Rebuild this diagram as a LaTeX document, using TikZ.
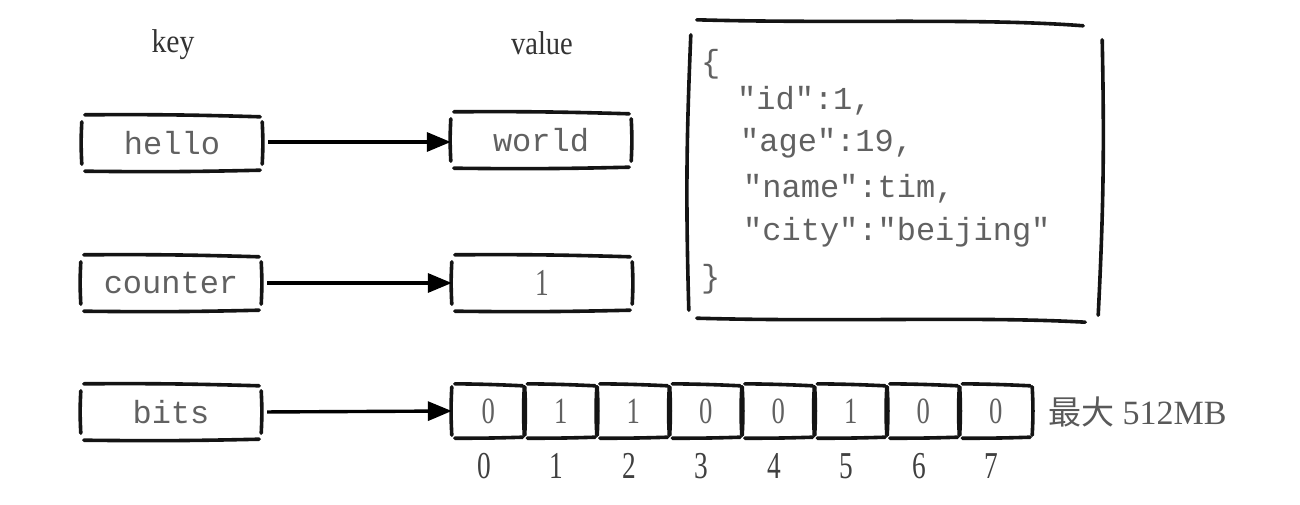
\documentclass[tikz,border=0pt]{standalone}
\usepackage{fontspec}
\setmainfont{Liberation Serif}
\setmonofont{Liberation Mono}
\newfontfamily\cjk{Noto Sans CJK SC}
\usetikzlibrary{arrows.meta,calc}
\newcommand\skbox[2][6pt]{%
  \draw[skline] ([xshift=3pt,yshift=1pt]#2.north west) to[bend left=1] ([xshift=-2pt,yshift=-1pt]#2.north east);
  \draw[skline] ([xshift=3pt,yshift=-1pt]#2.south west) to[bend right=1] ([xshift=-2pt]#2.south east);
  \draw[skline] ([yshift=-#1]#2.north west) to[bend right=3] ([yshift=#1]#2.south west);
  \draw[skline] ([yshift=-#1]#2.north east) to[bend left=3] ([yshift=#1]#2.south east);
}
\newcommand\nar[1]{\scalebox{0.72}[1]{#1}}
\begin{document}
\begin{tikzpicture}[x=1pt,y=-1pt,
  skline/.style={line width=3.6pt,line cap=round,draw=black!92},
  kbox/.style={minimum width=180pt,minimum height=54pt,inner sep=0pt,font=\fontsize{32}{32}\ttfamily,text=black!62},
  cell/.style={minimum width=72.5pt,minimum height=52pt,inner sep=0pt,font=\fontsize{37}{37}\selectfont,text=black!62},
  lab/.style={font=\fontsize{33}{34}\selectfont,text=black!80},
  idx/.style={anchor=base,inner sep=0pt,font=\fontsize{38}{38}\selectfont,text=black!75},
  arr/.style={line width=3.4pt,-{Triangle[length=24pt,width=19pt]},shorten <=6pt},
  jl/.style={anchor=base west,inner sep=0pt,font=\fontsize{32}{32}\ttfamily,text=black!62}]
\useasboundingbox (0,0) rectangle (1300,505);
\fill[white] (0,0) rectangle (1300,505);

\node[lab] (key) at (173,45) {\nar{\scalebox{1.25}[1]{key}}};
\node[lab] (val) at (542,43) {\nar{\scalebox{1.2}[1]{value}}};

\node[kbox] (hello) at (172,143) {hello};
\node[kbox] (world) at (541,140) {world};
\node[kbox] (counter) at (171,283) {counter};
\node[kbox,font=\fontsize{38}{38}\selectfont] (one) at (542,283) {\nar{1}};
\node[kbox] (bits) at (171,412) {bits};
\skbox{hello}\skbox{world}\skbox{counter}\skbox{one}\skbox{bits}

\draw[arr] (hello.east |- 0,142) -- (world.west |- 0,142);
\draw[arr] (counter.east) -- (one.west);

\foreach \i/\v in {0/0,1/1,2/1,3/0,4/0,5/1,6/0,7/0}{
  \node[cell] (c\i) at (488.25+72.5*\i,411) {\nar{\v}};
  \skbox[2pt]{c\i}
  \node[idx] (i\i) at ([xshift=-4pt,yshift=-41pt]c\i.south) {\nar{\i}};
}
\draw[arr] (bits.east) -- (c0.west);

\node[anchor=base west,inner sep=0pt,font=\fontsize{34}{34}\selectfont,text=black!65] (max) at (1048,424) {{\cjk\fontsize{33}{33}\selectfont 最大} 512MB};

% JSON box
\node[minimum width=410pt,minimum height=298pt,inner sep=0pt] (jbox) at (895,171) {};
\draw[skline] ([xshift=7pt,yshift=2pt]jbox.north west) .. controls ([xshift=150pt,yshift=-2pt]jbox.north west) and ([xshift=-120pt,yshift=4pt]jbox.north east) .. ([xshift=-17pt,yshift=-4pt]jbox.north east);
\draw[skline] ([xshift=7pt,yshift=2pt]jbox.south west) .. controls ([xshift=150pt,yshift=-2pt]jbox.south west) and ([xshift=-120pt,yshift=4pt]jbox.south east) .. ([xshift=-15pt,yshift=-2pt]jbox.south east);
\draw[skline] ([xshift=1pt,yshift=-13pt]jbox.north west) to[bend right=2] ([xshift=-1pt,yshift=10pt]jbox.south west);
\draw[skline] ([xshift=2pt,yshift=-18pt]jbox.north east) to[bend left=2] ([xshift=-2pt,yshift=5pt]jbox.south east);

\node[jl] (j0) at (701,73) {\{};
\node[jl] (j1) at (737,110) {"id":1,};
\node[jl] (j2) at (740,152) {"age":19,};
\node[jl] (j3) at (743,197) {"name":tim,};
\node[jl] (j4) at (743,240) {"city":"beijing"};
\node[jl] (j5) at (701,287) {\}};
\end{tikzpicture}
\end{document}
